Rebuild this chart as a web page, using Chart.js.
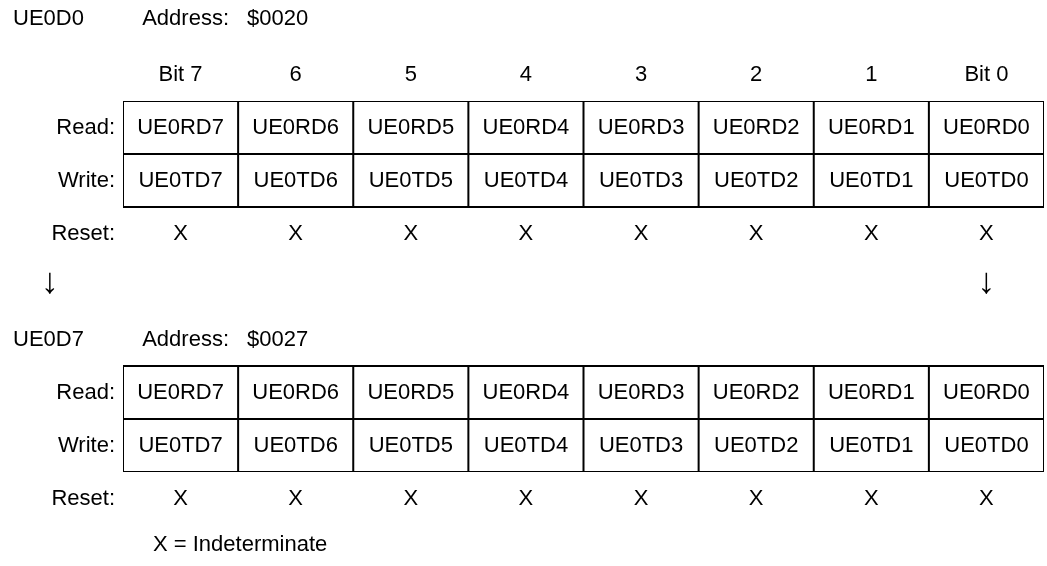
<!DOCTYPE html>
<html>
<head>
<meta charset="utf-8">
<script src="https://cdn.jsdelivr.net/npm/chart.js@4/dist/chart.umd.min.js"></script>
<style>
  body { margin: 0; background: #fff; }
  #wrap { width: 1047px; height: 566px; }
</style>
</head>
<body>
<div id="wrap"><canvas id="reg" width="1047" height="566"></canvas></div>
<script>
// register data
const bitLabels = ['Bit 7', '6', '5', '4', '3', '2', '1', 'Bit 0'];
const readBits = ['UE0RD7', 'UE0RD6', 'UE0RD5', 'UE0RD4', 'UE0RD3', 'UE0RD2', 'UE0RD1', 'UE0RD0'];
const writeBits = ['UE0TD7', 'UE0TD6', 'UE0TD5', 'UE0TD4', 'UE0TD3', 'UE0TD2', 'UE0TD1', 'UE0TD0'];
const resetVals = ['X', 'X', 'X', 'X', 'X', 'X', 'X', 'X'];
const rowLabels = ['Read:', 'Write:', 'Reset:'];
const regNames = ['UE0D0', 'UE0D7'];
const regAddrs = ['$0020', '$0027'];
const regRowStart = [0, 5]; // first row index of each register table
const legendText = 'X = Indeterminate';

const FONT = '22px "Liberation Sans", Arial, sans-serif';

// grid lines for one table, as a gapped line series (null breaks the line)
function gridPoints(top) {
  const pts = [];
  for (let r = 0; r <= 2; r++) {
    pts.push({x: 0, y: top + r}, {x: bitLabels.length, y: top + r}, {x: 0, y: null});
  }
  for (let c = 0; c <= bitLabels.length; c++) {
    pts.push({x: c, y: top}, {x: c, y: top + 2}, {x: c, y: null});
  }
  return pts;
}

const datasets = regRowStart.map(top => ({
  data: gridPoints(top),
  showLine: true,
  spanGaps: false,
  borderColor: '#000',
  borderWidth: 2,
  pointRadius: 0,
  fill: false
}));

const textPlugin = {
  id: 'regText',
  afterDatasetsDraw(chart) {
    const ctx = chart.ctx;
    const xs = chart.scales.x;
    const ys = chart.scales.y;
    const left = xs.getPixelForValue(0);
    ctx.save();
    ctx.font = FONT;
    ctx.fillStyle = '#000';
    ctx.textBaseline = 'middle';

    regRowStart.forEach((top, k) => {
      // header line
      const hy = ys.getPixelForValue(top - (k === 0 ? 1.55 : 0.5));
      ctx.textAlign = 'left';
      ctx.fillText(regNames[k], 13, hy);
      ctx.textAlign = 'right';
      ctx.fillText('Address:', 229, hy);
      ctx.textAlign = 'left';
      ctx.fillText(regAddrs[k], 247, hy);

      // bit numbers only above the first table
      ctx.textAlign = 'center';
      if (k === 0) {
        bitLabels.forEach((b, i) => ctx.fillText(b, xs.getPixelForValue(i + 0.5), ys.getPixelForValue(top - 0.5)));
      }

      // row labels
      ctx.textAlign = 'right';
      rowLabels.forEach((lab, r) => ctx.fillText(lab, left - 8, ys.getPixelForValue(top + r + 0.5)));

      // cells
      ctx.textAlign = 'center';
      [readBits, writeBits, resetVals].forEach((row, r) => {
        row.forEach((t, i) => ctx.fillText(t, xs.getPixelForValue(i + 0.5), ys.getPixelForValue(top + r + 0.5)));
      });
    });

    // continuation arrows
    ctx.font = '36px "Liberation Sans", Arial, sans-serif';
    const ay = ys.getPixelForValue(3.43);
    ctx.fillText('\u2193', 50, ay);
    ctx.fillText('\u2193', xs.getPixelForValue(bitLabels.length - 0.5), ay);

    // legend note
    ctx.font = FONT;
    ctx.textAlign = 'left';
    ctx.fillText(legendText, 153, ys.getPixelForValue(8.38));
    ctx.restore();
  }
};

new Chart(document.getElementById('reg').getContext('2d'), {
  type: 'scatter',
  data: { datasets: datasets },
  options: {
    responsive: false,
    animation: false,
    events: [],
    layout: { padding: { left: 123, right: 3, top: 101, bottom: 94 } },
    scales: {
      x: { type: 'linear', min: 0, max: 8, display: false },
      y: { type: 'linear', min: 0, max: 7, reverse: true, display: false }
    },
    plugins: {
      legend: { display: false },
      tooltip: { enabled: false }
    }
  },
  plugins: [textPlugin]
});
</script>
</body>
</html>
